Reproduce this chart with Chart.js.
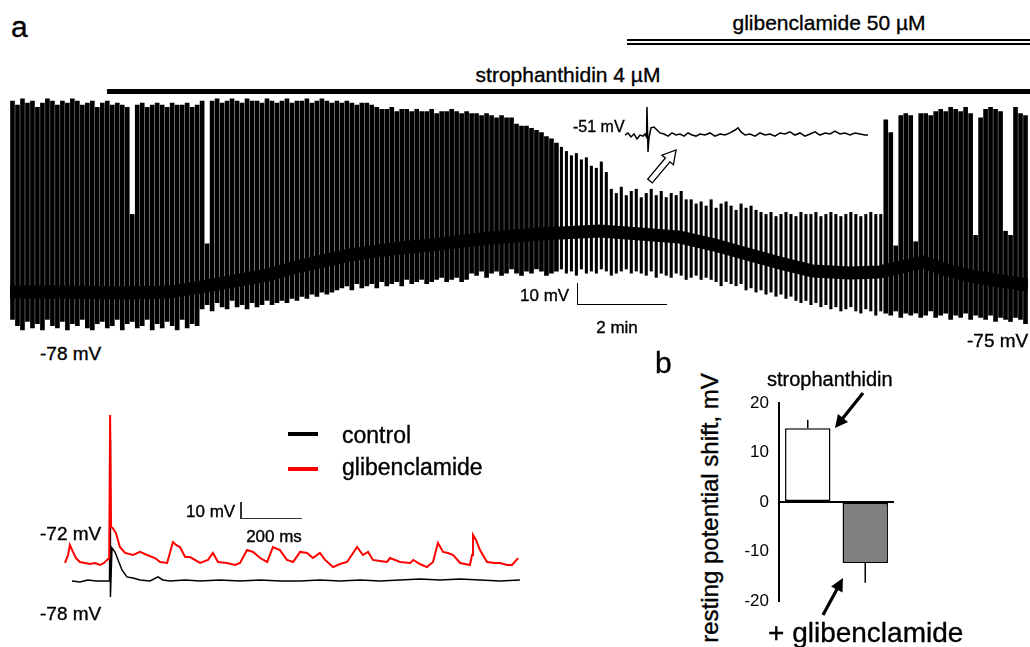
<!DOCTYPE html>
<html lang="en">
<head>
<meta charset="utf-8">
<title>Strophanthidin and glibenclamide recordings</title>
<script src="https://cdn.jsdelivr.net/npm/chart.js@4.4.1/dist/chart.umd.min.js"></script>
<style>
  html, body { margin: 0; padding: 0; background: #fff; }
  body { position: relative; width: 1030px; height: 647px; overflow: hidden;
         font-family: Arial, "Liberation Sans", Helvetica, sans-serif; color: #000; }
  canvas { position: absolute; }
  .txt { position: absolute; line-height: 1; white-space: nowrap; -webkit-text-stroke: 0.35px #000; }
  .ln { position: absolute; background: #000; }
</style>
</head>
<body>

<!-- panel labels and treatment bars -->
<div class="txt" style="left:11px;top:12px;font-size:30px">a</div>
<div class="txt" style="left:829px;top:12px;font-size:21px;transform:translateX(-50%)">glibenclamide 50 µM</div>
<div class="ln" style="left:627px;top:39px;width:403px;height:1.5px"></div>
<div class="ln" style="left:627px;top:42.5px;width:403px;height:2px"></div>
<div class="txt" style="left:568px;top:64px;font-size:21px;transform:translateX(-50%)">strophanthidin 4 µM</div>
<div class="ln" style="left:107px;top:89px;width:923px;height:5px"></div>

<canvas id="traceLong" width="1018" height="250" style="left:10px;top:90px"></canvas>
<canvas id="traceBand" width="1018" height="250" style="left:10px;top:90px"></canvas>
<canvas id="traceInset" width="255" height="60" style="left:620px;top:100px"></canvas>

<div class="txt" style="left:573px;top:119px;font-size:16px">-51 mV</div>
<div class="txt" style="left:520px;top:287px;font-size:17px">10 mV</div>
<div class="ln" style="left:576.5px;top:283px;width:1.5px;height:22px"></div>
<div class="ln" style="left:576.5px;top:303.5px;width:90px;height:1.5px"></div>
<div class="txt" style="left:617px;top:319px;font-size:17px;transform:translateX(-50%)">2 min</div>
<div class="txt" style="left:40px;top:344px;font-size:19px">-78 mV</div>
<div class="txt" style="left:967px;top:331px;font-size:19px">-75 mV</div>

<!-- short sweeps -->
<canvas id="traceShort" width="470" height="210" style="left:60px;top:400px"></canvas>
<div class="ln" style="left:288px;top:431.5px;width:30px;height:4px"></div>
<div class="txt" style="left:342px;top:424px;font-size:23px">control</div>
<div class="ln" style="left:288px;top:467px;width:30px;height:4px;background:#ff0000"></div>
<div class="txt" style="left:342px;top:456px;font-size:23px">glibenclamide</div>
<div class="txt" style="left:186px;top:503px;font-size:17px">10 mV</div>
<div class="ln" style="left:240px;top:502px;width:1.5px;height:17px;background:#333"></div>
<div class="ln" style="left:240px;top:517.5px;width:62px;height:1.5px;background:#333"></div>
<div class="txt" style="left:274px;top:528px;font-size:17px;transform:translateX(-50%)">200 ms</div>
<div class="txt" style="left:40px;top:524px;font-size:19px">-72 mV</div>
<div class="txt" style="left:40px;top:604px;font-size:19px">-78 mV</div>

<!-- panel b -->
<div class="txt" style="left:655px;top:348px;font-size:30px">b</div>
<div class="txt" style="left:710px;top:508px;font-size:24px;transform:translate(-50%,-50%) rotate(-90deg)">resting potential shift, mV</div>
<canvas id="shiftBars" width="164" height="245" style="left:730px;top:380px"></canvas>
<div class="txt" style="left:767px;top:369px;font-size:20px">strophanthidin</div>
<div class="txt" style="left:768px;top:619px;font-size:28px">+ glibenclamide</div>

<svg width="1030" height="647" style="position:absolute;left:0;top:0;pointer-events:none">
  <polygon transform="translate(650 181) rotate(-50)" points="0,-3 27.5,-3 27.5,-7.5 40.5,0 27.5,7.5 27.5,3 0,3"
           fill="#fff" stroke="#000" stroke-width="1.3"/>
  <polygon transform="translate(863 393) rotate(128.7)" points="0,-1.6 32,-1.6 32,-6.5 44.8,0 32,6.5 32,1.6 0,1.6" fill="#000"/>
  <polygon transform="translate(823 615) rotate(-61.6)" points="0,-1.6 29,-1.6 29,-6.5 42,0 29,6.5 29,1.6 0,1.6" fill="#000"/>
</svg>

<script>
// ---- long recording: one spike bar every ~0.11 min, peak and trough (mV) ----
const spikeTopMv = [
  12, 10, 13, 11, 12, 9, 11, 13, 12, 10, 12, 11, 13, 12, 10, 11, 12, 9, 11, 12, 10, 11, 10,
  9, -42,
  10, 11, 9, 10, 11, 10, 9, 11, 10, 10, 11, 9, 10,
  12, -56,
  12, 13, 11, 12, 13, 12, 11, 13, 12, 12, 11, 13, 12, 11, 12, 13, 11, 12, 12, 13, 11, 12, 13, 12, 11, 12,
  11, 12, 11, 10, 11, 11, 10,
  9, 8, 8, 9, 7, 8, 8, 7, 8, 7, 7, 8, 6, 7, 7, 8, 7, 6, 7, 6,
  6, 5, 6, 5, 4, 5, 4, 4,
  1, 0, 0, -1, -2,
  -3, -5, -6, -8,
  -10, -12, -14,
  -13, -16, -15, -19,
  -20, -17, -22,
  -30, -32, -29, -33, -31, -30, -34, -32, -30, -33, -31, -34, -32, -33, -31, -35,
  -35, -37, -36, -38, -35, -39, -37, -36, -38, -40, -37, -39, -38, -40,
  -41, -42, -41, -43, -42, -41, -42, -43, -41, -42, -42, -41, -43, -42, -41, -42, -43, -42, -41, -42, -43, -42, -41, -42,
  -42,
  3, -3, -57, 5, 6, 5, -55, 6, 6, 5, 7, 8, 7, 9, 8, 7, 9, 6, -52, 4, 8, 9, 8, 7, -50, -52, 9, 6, 5
];
const spikeTroughMv = [
  -92, -95, -97, -93, -96, -94, -97, -92, -95, -96, -93, -97, -94, -95, -92, -96, -97, -94, -93, -96,
  -95, -92, -97, -94, -93, -96, -95, -92, -97, -94, -96, -93, -95, -97, -92, -96, -94, -95,
  -87, -85, -88, -84, -86, -87, -83, -86, -85, -87, -84, -86, -85, -83,
  -85, -84, -83, -84, -82, -83, -81, -82, -80, -81, -79, -80, -79, -78,
  -77, -76, -78, -75, -77, -76, -75, -77, -74, -76, -75, -74, -76, -73, -75, -74, -73, -75, -74, -73,
  -72, -74, -73, -72, -74, -73,
  -70, -71, -69, -72, -70, -69, -71, -70, -68, -70, -71, -69, -70, -68, -69, -71, -70, -69, -68, -70,
  -69, -71, -68, -70, -69, -70, -68, -69, -71, -70, -69, -68, -70, -69,
  -70, -71, -69, -72, -70, -71, -72, -70, -71, -73, -72, -71, -73, -72,
  -73, -74, -76, -74, -75, -76, -75, -78, -77, -79, -78, -80, -79, -81, -80,
  -82, -81, -83, -84, -83, -85, -84, -86, -85, -87, -86, -88, -87, -86, -88,
  -89, -87, -88, -90, -88, -89, -90, -88, -91, -89, -90, -89, -91, -90, -88,
  -91, -90, -89, -92, -90, -91, -89, -92, -90, -91, -92, -90, -93, -91, -92,
  -93, -91, -92, -94
];

// slow membrane potential under the spikes
const baselineMin = [0, 1.12, 2.47, 3.6, 4.27, 5.06, 5.78, 6.52, 7.64, 8.76, 9.66, 10.79, 11.91, 13.26,
  14.16, 15.06, 15.84, 16.56, 17.3, 18.04, 18.88, 19.55, 20.11, 20.52, 20.9, 21.57, 22.25, 22.88];
const baselineMv = [-79, -79, -79.4, -79, -76.6, -73.7, -70.9, -66.6, -61.3, -58, -56.1, -53.2, -51.3, -49.9,
  -51.3, -52.8, -56.6, -60.9, -65.1, -69, -69.9, -69.4, -66.6, -64.7, -67.5, -71.3, -73.7, -75.6];

// inset at -51 mV
const insetMs = [0, 6, 12, 18, 24, 30, 36, 40, 43, 44, 46, 48, 52, 58, 64, 70, 78, 86, 94, 102, 110, 118,
  126, 134, 142, 150, 160, 170, 180, 190, 200, 210, 220, 226, 232, 240, 250, 260, 270, 280, 290, 300,
  310, 320, 330, 340, 350, 360, 370, 380, 390, 400, 410, 420, 430, 440, 450, 460, 470, 480, 486];
const insetMv = [-51.5, -50.5, -52.4, -51, -53.4, -51.5, -52, -51, -52.4, -38.1, -59.6, -52.9, -48.1, -47.7,
  -49.1, -50.5, -51, -52, -50.5, -51.5, -51, -52, -50.5, -51.5, -52, -51, -51.5, -50.5, -52, -51, -51.5,
  -50.5, -49.1, -48.1, -50, -51.5, -51, -52, -50.5, -51.5, -51, -52, -50.5, -51, -50, -51.5, -50.5, -52,
  -51, -50, -51.5, -50.5, -51, -49.6, -51, -50.5, -51.5, -50.5, -51, -51.5, -51.5];

// short sweeps
const controlMs = [23, 49, 75, 102, 128, 146, 148, 149, 154, 164, 174, 187, 203, 223, 246, 279, 305, 321,
  344, 394, 443, 508, 574, 640, 705, 771, 836, 902, 968, 1033, 1099, 1164, 1230, 1296, 1361, 1427, 1492];
const controlMv = [-78, -78.6, -77.4, -78, -78, -78, 5, -87.4, -58.6, -61, -65.6, -71.5, -75.6, -76.2, -77.4,
  -78, -75.6, -77.4, -78, -77.4, -78, -77.4, -78, -77.4, -78, -78, -77.4, -78, -77.4, -78, -77.4, -76.8,
  -77.4, -76.8, -77.4, -78, -77.4];
const glibMs = [0, 10, 16, 26, 36, 49, 66, 82, 98, 115, 128, 138, 145, 148, 151, 157, 167, 180, 197, 223,
  246, 269, 295, 312, 335, 354, 364, 377, 394, 410, 443, 469, 485, 502, 531, 558, 574, 597, 617, 640, 663,
  682, 705, 728, 748, 771, 794, 813, 836, 853, 879, 902, 925, 958, 977, 994, 1010, 1033, 1056, 1066, 1099,
  1132, 1142, 1164, 1187, 1207, 1223, 1240, 1256, 1273, 1296, 1328, 1335, 1338, 1348, 1361, 1384, 1410,
  1427, 1450, 1466, 1486];
const glibMv = [-67.4, -62.7, -56.8, -60.9, -64.5, -66.8, -67.4, -68, -67.4, -68.6, -67.4, -65.6, -64.5, 19.6,
  -46.2, -47, -49.8, -58, -61.5, -62.7, -60.9, -62.7, -64.5, -66.8, -67.4, -55.1, -56.8, -58, -63.9, -63.9,
  -67.4, -65.6, -61.5, -66.8, -67.4, -68.6, -67.4, -59.8, -60.9, -64.5, -66.8, -58, -59.8, -65.6, -66.8,
  -60.9, -61.5, -64.5, -61.5, -65.6, -69.8, -68, -66.8, -58, -62.7, -60.9, -65.6, -66.2, -66.8, -64.5,
  -66.8, -67.4, -65.6, -68, -69.8, -66.8, -55.6, -60.9, -61.5, -62.7, -67.4, -68.6, -62.7, -50.9, -53.9,
  -59.8, -66.8, -67.4, -67.4, -68.6, -68.6, -64.5];

// panel b: mean shift and error (mV)
const shiftLabels = ['strophanthidin', '+ glibenclamide'];
const shiftMeanMv = [14.9, -12.3];
const shiftErrMv = [1.7, 4.0];
const shiftTicks = [-20, -10, 0, 10, 20];

Chart.defaults.font.family = 'Arial, "Liberation Sans", Helvetica, sans-serif';
Chart.defaults.color = '#000';

const semInteracao = {
  responsive: false,
  animation: false,
  events: [],
  plugins: { legend: { display: false }, tooltip: { enabled: false } }
};

// spikes are thinner while the cell sits depolarised
const thinSpikes = { from: 110, to: 174 };

function toPoints(xs, ys) {
  return xs.map((x, i) => ({ x: x, y: ys[i] }));
}

function drawLongTrace() {
  const isThin = i => i >= thinSpikes.from && i <= thinSpikes.to;
  const spikeRange = spikeTopMv.map((top, i) => [spikeTroughMv[i], top]);
  new Chart(document.getElementById('traceLong'), {
    type: 'bar',
    data: {
      labels: spikeTopMv.map((_, i) => i),
      datasets: [
        {
          data: spikeRange.map((r, i) => isThin(i) ? null : r),
          backgroundColor: '#000', borderWidth: 0, barThickness: 4, grouped: false
        },
        {
          data: spikeRange.map((r, i) => isThin(i) ? r : null),
          backgroundColor: '#000', borderWidth: 0, barThickness: 2.4, grouped: false
        }
      ]
    },
    options: {
      ...semInteracao,
      layout: { padding: 0 },
      scales: {
        x: { type: 'category', display: false, offset: true },
        y: { display: false, min: -101.81, max: 17.24 }
      }
    }
  });

  // thick band where the inter-spike potential piles up
  new Chart(document.getElementById('traceBand'), {
    type: 'line',
    data: {
      datasets: [{
        data: toPoints(baselineMin, baselineMv),
        borderColor: '#000', borderWidth: 13, pointRadius: 0
      }]
    },
    options: {
      ...semInteracao,
      layout: { padding: 0 },
      scales: {
        x: { type: 'linear', display: false, offset: false, min: 0, max: 22.876 },
        y: { display: false, min: -101.81, max: 17.24 }
      }
    }
  });
}

function drawInset() {
  new Chart(document.getElementById('traceInset'), {
    type: 'line',
    data: {
      datasets: [{
        data: toPoints(insetMs, insetMv),
        borderColor: '#000', borderWidth: 1.5, pointRadius: 0
      }]
    },
    options: {
      ...semInteracao,
      layout: { padding: 0 },
      scales: {
        x: { type: 'linear', display: false, min: -10, max: 500 },
        y: { display: false, min: -63.4, max: -34.8 }
      }
    }
  });
}

function drawShortTraces() {
  new Chart(document.getElementById('traceShort'), {
    type: 'line',
    data: {
      datasets: [
        { label: 'control', order: 1, data: toPoints(controlMs, controlMv),
          borderColor: '#000', borderWidth: 1.5, pointRadius: 0 },
        { label: 'glibenclamide', order: 0, data: toPoints(glibMs, glibMv),
          borderColor: '#ff0000', borderWidth: 2, pointRadius: 0 }
      ]
    },
    options: {
      ...semInteracao,
      layout: { padding: 0 },
      scales: {
        x: { type: 'linear', display: false, min: -16.4, max: 1525 },
        y: { display: false, min: -95.06, max: 28.47 }
      }
    }
  });
}

// error bars: one-sided, away from zero
const errorBars = {
  id: 'errorBars',
  afterDatasetsDraw(chart) {
    const ctx = chart.ctx;
    const y = chart.scales.y;
    const meta = chart.getDatasetMeta(0);
    ctx.save();
    ctx.strokeStyle = '#000';
    ctx.lineWidth = 1.5;
    meta.data.forEach((bar, i) => {
      const v = shiftMeanMv[i];
      const fim = v >= 0 ? v + shiftErrMv[i] : v - shiftErrMv[i];
      ctx.beginPath();
      ctx.moveTo(bar.x, y.getPixelForValue(v));
      ctx.lineTo(bar.x, y.getPixelForValue(fim));
      ctx.stroke();
    });
    ctx.restore();
  }
};

function drawShiftBars() {
  new Chart(document.getElementById('shiftBars'), {
    type: 'bar',
    data: {
      labels: shiftLabels,
      datasets: [{
        data: shiftMeanMv,
        backgroundColor: ['#ffffff', '#808080'],
        borderColor: '#000', borderWidth: 1.5, borderSkipped: false,
        barPercentage: 0.79, categoryPercentage: 1
      }]
    },
    options: {
      ...semInteracao,
      layout: { padding: { top: 23, bottom: 24, left: 0, right: 0 } },
      scales: {
        x: { display: false },
        y: {
          min: shiftTicks[0], max: shiftTicks[shiftTicks.length - 1],
          afterFit: s => { s.width = 49; },
          afterBuildTicks: s => { s.ticks = shiftTicks.map(v => ({ value: v })); },
          ticks: { padding: 10, font: { size: 17 }, color: '#000' },
          grid: {
            drawTicks: false, lineWidth: 2,
            color: c => (c.tick && c.tick.value === 0) ? '#000' : 'rgba(0,0,0,0)'
          },
          border: { display: true, color: '#000', width: 2 }
        }
      }
    },
    plugins: [errorBars]
  });
}

drawLongTrace();
drawInset();
drawShortTraces();
drawShiftBars();
</script>
</body>
</html>
